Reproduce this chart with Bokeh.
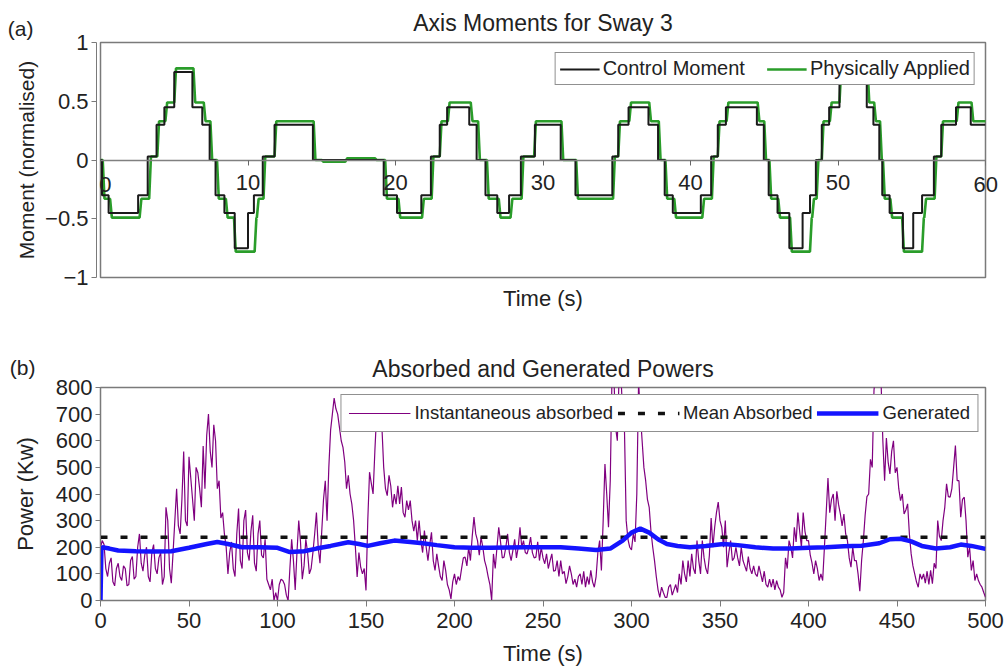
from bokeh.plotting import figure
from bokeh.models import (Legend, LegendItem, FixedTicker, LinearAxis, Range1d)
from bokeh.layouts import column
from bokeh.embed import file_html
from bokeh.resources import INLINE

FONT = "Liberation Sans"
TXT = "#222222"
FRAME = "#7a7a7a"

# ---------------- (a) axis moments ----------------
# control moment: step levels, each value holds from its time to the next
ctrl_t = [0.0, 0.1, 0.55, 2.55, 3.2, 3.8, 4.33, 5.0, 6.23, 6.9, 7.4, 7.8, 8.4, 9.1,
          10.0, 10.4, 11.0, 11.8, 14.4, 19.2, 20.1, 21.75, 22.4, 23.0, 23.5, 25.0,
          25.5, 26.1, 26.9, 27.7, 28.5, 29.45, 31.2, 32.2, 34.7, 35.1, 35.8, 37.15,
          37.8, 38.25, 38.8, 40.7, 41.4, 41.85, 42.4, 44.5, 44.97, 45.3, 45.9, 46.7,
          47.6, 48.1, 48.5, 48.9, 49.4, 50.1, 51.95, 52.4, 52.8, 53.0, 53.5, 54.4,
          55.1, 55.7, 56.5, 57.0, 58.0, 59.0, 60.0]
ctrl_v = [0.0, -0.3, -0.45, -0.3, 0.03, 0.3, 0.45, 0.75, 0.45, 0.3, 0.0, -0.3, -0.45, -0.75,
          -0.45, -0.3, 0.03, 0.3, 0.0, -0.3, -0.45, -0.3, 0.03, 0.3, 0.45, 0.3,
          0.0, -0.3, -0.45, -0.3, 0.03, 0.3, 0.0, -0.3, 0.03, 0.3, 0.45, 0.3,
          0.0, -0.3, -0.45, -0.3, 0.03, 0.3, 0.45, 0.3, 0.0, -0.3, -0.45, -0.75,
          -0.45, -0.3, 0.0, 0.3, 0.45, 0.75, 0.45, 0.3, 0.0, -0.3, -0.45, -0.75,
          -0.45, -0.3, 0.03, 0.3, 0.45, 0.3, 0.3]

# physically applied moment: lagging, slightly overshooting levels
appl_t = [0.0, 0.15, 0.65, 2.65, 3.3, 3.85, 4.4, 5.0, 6.3, 7.0, 7.45, 7.9, 8.5, 9.05,
          10.45, 10.6, 11.05, 11.8, 14.45, 15.0, 16.6, 18.6, 19.3, 20.2, 21.8, 22.45,
          23.0, 23.55, 25.1, 25.6, 26.2, 27.0, 27.8, 28.55, 29.4, 31.25, 32.25, 34.75,
          35.1, 35.85, 37.2, 37.85, 38.3, 38.9, 40.8, 41.45, 41.85, 42.45, 44.55, 45.0,
          45.35, 45.95, 46.75, 48.1, 48.25, 48.55, 48.9, 49.45, 50.1, 52.0, 52.45, 52.85,
          53.05, 53.55, 54.35, 55.7, 55.85, 56.55, 57.0, 58.05, 59.05, 60.0]
appl_v = [0.0, -0.33, -0.49, -0.33, 0.03, 0.33, 0.49, 0.78, 0.49, 0.33, 0.0, -0.33, -0.49, -0.78,
          -0.49, -0.33, 0.03, 0.33, 0.0, -0.015, 0.015, 0.0, -0.33, -0.49, -0.33, 0.03,
          0.33, 0.49, 0.33, 0.0, -0.33, -0.49, -0.33, 0.03, 0.33, 0.0, -0.33, 0.03,
          0.33, 0.49, 0.33, 0.0, -0.33, -0.49, -0.33, 0.03, 0.33, 0.49, 0.33, 0.0,
          -0.33, -0.49, -0.78, -0.49, -0.33, 0.0, 0.33, 0.49, 0.78, 0.49, 0.33, 0.0,
          -0.33, -0.49, -0.78, -0.49, -0.33, 0.03, 0.33, 0.49, 0.33, 0.33]

moment_ticks = [-1, -0.5, 0, 0.5, 1]
moment_labels = ["\u22121", "\u22120.5", "0", "0.5", "1"]
time_ticks_a = [0, 10, 20, 30, 40, 50, 60]
time_labels_a = ["0", "10", "20", "30", "40", "50", "60"]

# ---------------- (b) powers ----------------
abs_t = list(range(0, 501))          # one sample per second
abs_kw = [
    200, 225, 210, 120, 90, 140, 160, 70, 55, 120, 140, 90, 75, 130, 120, 55, 60, 150, 165, 80,
    90, 200, 250, 140, 110, 170, 200, 90, 70, 180, 210, 120, 100, 160, 180, 60, 90, 350, 300, 120,
    65, 180, 300, 420, 280, 250, 380, 560, 300, 280, 540, 460, 380, 300, 500, 480, 420, 350, 580, 420,
    620, 700, 560, 500, 660, 600, 420, 450, 310, 330, 250, 200, 100, 180, 220, 120, 90, 250, 345, 150,
    120, 300, 340, 180, 150, 260, 320, 140, 110, 250, 300, 170, 160, 230, 80, 60, 40, 80, 0, 30,
    0, 60, 80, 75, 60, 20, 0, 120, 230, 150, 40, 180, 300, 220, 80, 130, 230, 180, 100, 120,
    180, 250, 330, 200, 140, 260, 380, 450, 300, 500, 640, 700, 760, 720, 700, 650, 600, 575, 520, 420,
    470, 400, 362, 300, 200, 88, 180, 125, 100, 120, 38, 300, 482, 440, 400, 560, 700, 720, 680, 650,
    500, 420, 394, 470, 430, 350, 400, 362, 431, 363, 426, 330, 313, 375, 340, 375, 300, 260, 300, 225,
    300, 225, 180, 263, 200, 150, 210, 256, 150, 113, 175, 130, 90, 75, 150, 113, 60, 40, 6, 70,
    100, 60, 90, 75, 120, 160, 163, 130, 200, 150, 240, 313, 250, 225, 170, 238, 200, 150, 125, 90,
    60, 0, 175, 120, 200, 275, 220, 160, 163, 200, 250, 180, 150, 188, 230, 160, 200, 275, 200, 225,
    180, 175, 200, 238, 180, 160, 163, 220, 150, 200, 160, 138, 175, 120, 150, 175, 110, 113, 150, 90,
    150, 100, 110, 63, 90, 130, 100, 60, 80, 50, 90, 100, 60, 110, 50, 90, 60, 113, 70, 50,
    90, 180, 225, 113, 300, 513, 400, 275, 450, 850, 850, 650, 600, 850, 850, 700, 650, 300, 230, 200,
    190, 250, 220, 400, 820, 700, 600, 500, 450, 380, 350, 260, 200, 150, 90, 40, 12, 50, 30, 12,
    12, 50, 60, 20, 40, 60, 30, 100, 60, 150, 100, 70, 150, 90, 175, 120, 100, 225, 150, 100,
    225, 160, 120, 100, 170, 310, 200, 275, 330, 370, 300, 275, 200, 300, 125, 180, 225, 150, 160, 200,
    160, 130, 200, 150, 130, 110, 165, 120, 100, 130, 100, 90, 130, 100, 70, 110, 60, 50, 80, 50,
    80, 40, 75, 50, 40, 12, 30, 160, 120, 225, 200, 160, 275, 220, 330, 260, 200, 330, 260, 225,
    225, 170, 140, 100, 150, 120, 75, 100, 75, 200, 330, 460, 330, 380, 400, 300, 410, 360, 325, 280,
    325, 250, 225, 160, 125, 200, 150, 150, 100, 35, 150, 225, 320, 390, 400, 530, 500, 790, 850, 850,
    850, 820, 600, 450, 610, 520, 475, 560, 600, 480, 500, 420, 375, 400, 325, 340, 363, 250, 175, 130,
    100, 70, 50, 100, 80, 100, 65, 110, 60, 113, 63, 140, 120, 300, 240, 225, 300, 350, 438, 390,
    388, 420, 500, 582, 450, 450, 313, 380, 388, 300, 163, 200, 113, 150, 75, 100, 75, 60, 50, 30,
    12,
]
mean_absorbed_kw = 238

gen_t = [0, 0.5, 1, 5, 10, 20, 30, 40, 50, 60, 66, 72, 80, 90, 100, 107, 115, 122,
         130, 140, 146, 151, 158, 166, 175, 182, 190, 200, 210, 220, 240, 260, 270,
         280, 288, 295, 300, 305, 310, 315, 320, 326, 333, 342, 352, 360, 370, 380,
         390, 400, 410, 420, 430, 440, 446, 452, 458, 464, 472, 480, 486, 492, 500]
gen_kw = [0, 190, 200, 195, 188, 185, 184, 185, 198, 212, 220, 212, 200, 200, 198, 182, 185, 195,
          205, 219, 212, 205, 215, 225, 220, 215, 208, 200, 198, 198, 200, 200, 195,
          190, 195, 225, 255, 270, 255, 230, 212, 205, 200, 205, 212, 208, 200, 195,
          195, 198, 200, 204, 206, 215, 230, 232, 222, 205, 195, 200, 210, 205, 194]

power_ticks = [0, 100, 200, 300, 400, 500, 600, 700, 800]
time_ticks_b = [0, 50, 100, 150, 200, 250, 300, 350, 400, 450, 500]


def style_axis(ax, label_size="22px"):
    ax.axis_line_color = FRAME
    ax.major_tick_line_color = FRAME
    ax.minor_tick_line_color = None
    ax.major_tick_in = 0
    ax.major_label_text_font = FONT
    ax.major_label_text_font_size = "22px"
    ax.major_label_text_color = TXT
    ax.axis_label_text_font = FONT
    ax.axis_label_text_font_size = label_size
    ax.axis_label_text_font_style = "normal"
    ax.axis_label_text_color = TXT


def label_only_axis(ticks, labels, standoff, **kw):
    ax = LinearAxis(ticker=FixedTicker(ticks=ticks),
                    major_label_overrides=dict(zip(ticks, labels)), **kw)
    style_axis(ax)
    ax.axis_line_color = None
    ax.major_tick_line_color = None
    ax.major_tick_out = 0
    ax.major_label_standoff = standoff
    return ax


def style_common(p, title_standoff):
    p.title.align = "center"
    p.title.text_font = FONT
    p.title.text_font_size = "23px"
    p.title.text_font_style = "normal"
    p.title.text_color = TXT
    p.title.standoff = title_standoff
    p.outline_line_color = FRAME
    p.outline_line_width = 1.5
    p.xgrid.visible = False
    p.ygrid.visible = False
    p.background_fill_color = "white"
    p.border_fill_color = "white"
    style_axis(p.xaxis[0])
    style_axis(p.yaxis[0])


# ---------- top chart ----------
top = figure(width=1006, height=340, output_backend="svg", toolbar_location=None,
             x_range=Range1d(0, 60), y_range=Range1d(-1, 1),
             min_border_left=97, min_border_right=14, min_border_top=42,
             min_border_bottom=63, title="Axis Moments for Sway 3")
style_common(top, 13)

top.yaxis.ticker = FixedTicker(ticks=moment_ticks)
top.yaxis.major_label_overrides = dict(zip(moment_ticks, moment_labels))
top.yaxis.major_tick_out = 5
top.yaxis.major_label_standoff = 3

# outer left axis: panel tag at the top plus the vertical axis title
tag_a = label_only_axis([moment_ticks[-1]], ["(a)\n"], 9, axis_label="Moment (normalised)")
tag_a.major_label_text_font_size = "21px"
tag_a.axis_label_text_font_size = "21px"
tag_a.axis_label_standoff = -33
top.add_layout(tag_a, "left")

# time axis drawn along the zero line
zero_ax = top.xaxis[0]
zero_ax.fixed_location = 0
zero_ax.ticker = FixedTicker(ticks=time_ticks_a)
zero_ax.major_label_overrides = {time_ticks_a[0]: "", time_ticks_a[-1]: ""}
zero_ax.axis_line_color = "#808080"
zero_ax.axis_line_width = 1.5
zero_ax.major_tick_line_color = "#666666"
zero_ax.major_tick_out = 5
zero_ax.major_label_standoff = 10

# the two time labels on the frame edges are carried by side axes
frame_h_a = 340 - 42 - 63
label_drop = 24.5 * (top.y_range.end - top.y_range.start) / frame_h_a
first_ax = label_only_axis([-label_drop], [time_labels_a[0]], -11)
last_ax = label_only_axis([-label_drop], [time_labels_a[-1]], -12)
top.left = [first_ax] + list(top.left)
top.add_layout(last_ax, "right")

# plain axis below the frame carrying only the title
time_ax = LinearAxis(ticker=FixedTicker(ticks=[]), axis_label="Time (s)")
style_axis(time_ax)
time_ax.axis_line_color = None
time_ax.axis_label_standoff = 8
top.add_layout(time_ax, "below")

# applied moment with short ramps between its levels
ax_x, ax_y = [appl_t[0]], [appl_v[0]]
for i in range(1, len(appl_t)):
    ax_x += [appl_t[i], appl_t[i] + 0.12]
    ax_y += [appl_v[i - 1], appl_v[i]]
r_appl = top.line(ax_x, ax_y, line_color="#2a9d2a", line_width=2.6)
r_ctrl = top.step(ctrl_t, ctrl_v, mode="after", line_color="#1a1a1a", line_width=2)

leg_a = Legend(items=[LegendItem(label="Control Moment", renderers=[r_ctrl]),
                      LegendItem(label="Physically Applied", renderers=[r_appl])],
               orientation="horizontal", location="top_right")
leg_a.label_text_font = FONT
leg_a.label_text_font_size = "20px"
leg_a.label_text_color = TXT
leg_a.glyph_width = 40
leg_a.glyph_height = 20
leg_a.label_height = 20
leg_a.label_standoff = 3
leg_a.spacing = 22
leg_a.padding = 4
leg_a.margin = 10
leg_a.border_line_color = "#222222"
leg_a.border_line_width = 1
leg_a.background_fill_alpha = 1
top.add_layout(leg_a)

# ---------- bottom chart ----------
bot = figure(width=1006, height=331, output_backend="svg", toolbar_location=None,
             x_range=Range1d(0, 500), y_range=Range1d(0, 800),
             min_border_left=100, min_border_right=21, min_border_top=47,
             min_border_bottom=71, title="Absorbed and Generated Powers")
style_common(bot, 12)
bot.xaxis.ticker = FixedTicker(ticks=time_ticks_b)
bot.xaxis.major_tick_out = 6
bot.xaxis.major_label_standoff = 6
bot.xaxis.axis_label = "Time (s)"
bot.xaxis.axis_label_standoff = 10
bot.yaxis.ticker = FixedTicker(ticks=power_ticks)
bot.yaxis.major_tick_out = 5
bot.yaxis.major_label_standoff = 3

# panel tag placed a few pixels below the top tick
frame_h_b = 331 - 47 - 71
tag_b_at = power_ticks[-1] - 8 * (bot.y_range.end - bot.y_range.start) / frame_h_b
tag_b = label_only_axis([tag_b_at], ["(b)\n\n"], 17, axis_label="Power (Kw)")
tag_b.major_label_text_font_size = "21px"
tag_b.axis_label_standoff = -31
bot.add_layout(tag_b, "left")

r_abs = bot.line(abs_t, abs_kw, line_color="#800080", line_width=1.2)
r_mean = bot.line([abs_t[0], abs_t[-1]], [mean_absorbed_kw, mean_absorbed_kw],
                  line_color="#111111", line_width=3.5, line_dash="7 13")
r_gen = bot.line(gen_t, gen_kw, line_color="#1414ff", line_width=4.5)

leg_b = Legend(items=[LegendItem(label="Instantaneous absorbed", renderers=[r_abs]),
                      LegendItem(label="Mean Absorbed", renderers=[r_mean]),
                      LegendItem(label="Generated", renderers=[r_gen])],
               orientation="horizontal", location="top_right")
leg_b.label_text_font = FONT
leg_b.label_text_font_size = "18.5px"
leg_b.label_text_color = TXT
leg_b.glyph_width = 62
leg_b.glyph_height = 20
leg_b.label_height = 20
leg_b.label_standoff = 4
leg_b.spacing = 4
leg_b.padding = 7
leg_b.margin = 7
leg_b.border_line_color = "#222222"
leg_b.border_line_width = 1
leg_b.background_fill_alpha = 1
bot.add_layout(leg_b)

layout = column(top, bot, spacing=0)
open("out.html", "w").write(file_html(layout, INLINE))
